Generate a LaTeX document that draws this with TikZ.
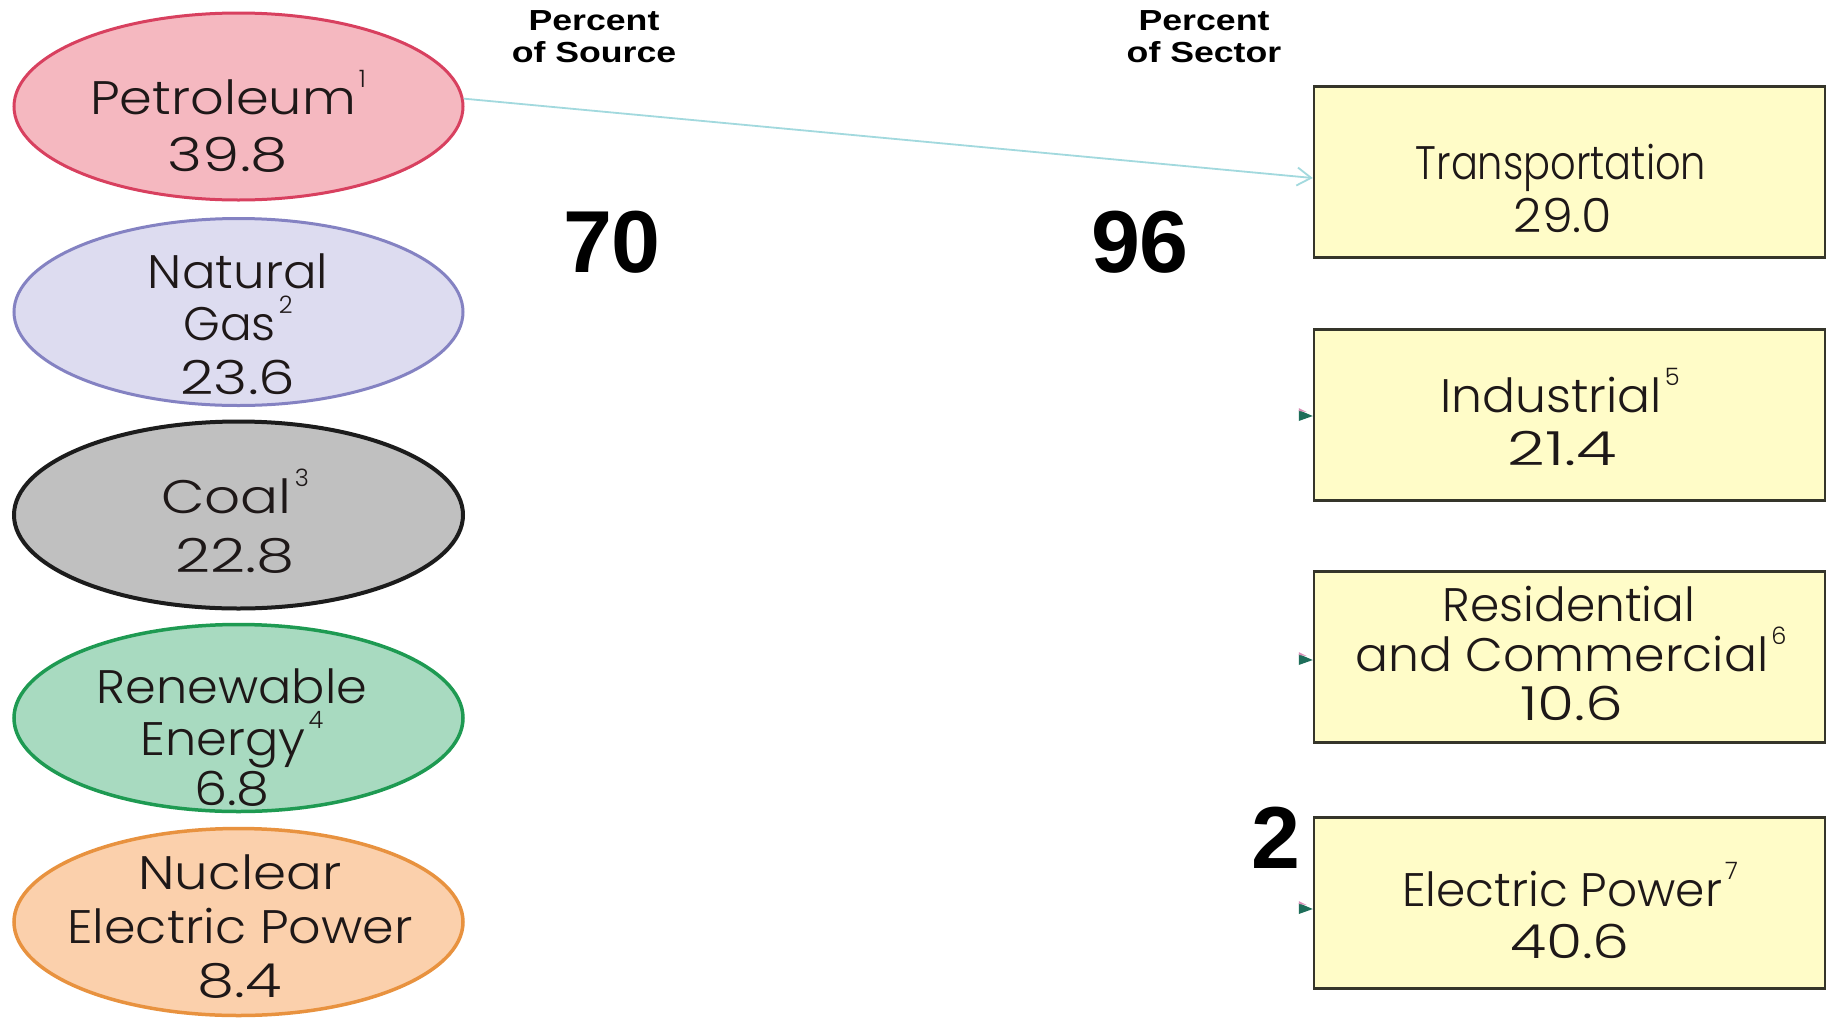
\documentclass[tikz,border=0pt]{standalone}
\usepackage{fontspec}
\setmainfont{Poppins}[UprightFont=* Light]
\newfontfamily\hdrfont{Liberation Sans}
\usetikzlibrary{arrows.meta,shapes.geometric}
\definecolor{pfill}{HTML}{F5B8C0}
\definecolor{pdraw}{HTML}{D8405F}
\definecolor{gfill}{HTML}{DDDCF0}
\definecolor{gdraw}{HTML}{8482C2}
\definecolor{cfill}{HTML}{C0C0C0}
\definecolor{cdraw}{HTML}{1C1C1C}
\definecolor{rfill}{HTML}{A8DAC0}
\definecolor{rdraw}{HTML}{1E9A52}
\definecolor{nfill}{HTML}{FBD0AC}
\definecolor{ndraw}{HTML}{E8923F}
\definecolor{boxfill}{HTML}{FFFCC8}
\definecolor{boxdraw}{HTML}{35352A}
\definecolor{txt}{HTML}{1E1818}
\definecolor{arrowc}{HTML}{A2D9DE}
\definecolor{tipc}{HTML}{1E6E5A}
\definecolor{tipp}{HTML}{D890B8}
\newcommand\sps[1]{\kern3pt\raisebox{0.56em}{\fontsize{24}{24}\selectfont #1}}
\newcommand\hs[2]{\scalebox{#1}[1]{#2}}
\begin{document}
\begin{tikzpicture}[x=1pt,y=-1pt,
  src/.style={ellipse, minimum width=449pt, minimum height=187pt, inner sep=0pt, line width=3pt},
  sect/.style={rectangle, draw=boxdraw, fill=boxfill, line width=2.5pt, minimum width=511pt, minimum height=171pt, inner sep=0pt},
  lbl/.style={anchor=base, font=\fontsize{47}{47}\selectfont, text=txt, inner sep=0pt},
  hdr/.style={anchor=base, font=\hdrfont\bfseries\fontsize{29}{29}\selectfont, inner sep=0pt},
  big/.style={anchor=base, font=\hdrfont\bfseries\fontsize{88}{88}\selectfont, inner sep=0pt},
  flow/.style={draw=arrowc, line width=1.8pt, -{Straight Barb[length=14pt,width=18pt]}}
]
\useasboundingbox[fill=white] (0,0) rectangle (1837,1018);

% sources
\node[src, fill=pfill, draw=pdraw] (pet) at (238.5,106.5) {};
\node[src, fill=gfill, draw=gdraw] (gas) at (238.5,312) {};
\node[src, fill=cfill, draw=cdraw, line width=4pt] (coal) at (238.5,515) {};
\node[src, fill=rfill, draw=rdraw, line width=3.5pt] (ren) at (238.5,718) {};
\node[src, fill=nfill, draw=ndraw, line width=3.5pt] (nuc) at (238.5,922) {};

\node[lbl] (pet1) at (228,114) {\hs{1.12}{Petroleum}\sps{1}};
\node[lbl] (pet2) at (228,171) {\hs{1.27}{39.8}};
\node[lbl] (gas1) at (238,288) {\hs{1.06}{Natural}};
\node[lbl] (gas2) at (238,340) {Gas\sps{2}};
\node[lbl] (gas3) at (238,394) {\hs{1.24}{23.6}};
\node[lbl] (coal1) at (235,513) {\hs{1.2}{Coal}\sps{3}};
\node[lbl] (coal2) at (235,572) {\hs{1.3}{22.8}};
\node[lbl] (ren1) at (232,703) {\hs{1.05}{Renewable}};
\node[lbl] (ren2) at (232,755) {\hs{1.05}{Energy}\sps{4}};
\node[lbl] (ren3) at (232,805) {\hs{1.12}{6.8}};
\node[lbl] (nuc1) at (240,889) {\hs{1.13}{Nuclear}};
\node[lbl] (nuc2) at (240,943) {\hs{1.08}{Electric Power}};
\node[lbl] (nuc3) at (240,997) {\hs{1.26}{8.4}};

% sectors
\node[sect] (tra) at (1569.5,172) {};
\node[sect] (ind) at (1569.5,415) {};
\node[sect] (res) at (1569.5,657) {};
\node[sect] (ele) at (1569.5,903) {};

\node[lbl] (tra1) at (1561,179) {\hs{0.85}{Transportation}};
\node[lbl] (tra2) at (1563,232) {\hs{1.05}{29.0}};
\node[lbl] (ind1) at (1560,412) {\hs{1.04}{Industrial}\sps{5}};
\node[lbl] (ind2) at (1562,465) {\hs{1.4}{21.4}};
\node[lbl] (res1) at (1569,621) {Residential};
\node[lbl] (res2) at (1571,671) {\hs{1.04}{and Commercial}\sps{6}};
\node[lbl] (res3) at (1572,720) {\hs{1.28}{10.6}};
\node[lbl] (ele1) at (1570,906) {Electric Power\sps{7}};
\node[lbl] (ele2) at (1570,958) {\hs{1.25}{40.6}};

% headers
\node[hdr] (h1a) at (594,30) {\hs{1.23}{Percent}};
\node[hdr] (h1b) at (594,62) {\hs{1.23}{of Source}};
\node[hdr] (h2a) at (1204,30) {\hs{1.23}{Percent}};
\node[hdr] (h2b) at (1204,62) {\hs{1.23}{of Sector}};

% big numbers
\node[big] (n70) at (612,272) {70};
\node[big] (n96) at (1140,272) {96};
\node[big] (n2) at (1276,868) {2};

% connector
\draw[flow] (pet.2) -- ([yshift=-6pt]tra.west);

% leftover arrow tips
\foreach \b/\dy in {ind/1, res/3, ele/6} {
  \fill[tipc] ([xshift=-14pt,yshift=-\dy pt+6pt]\b.west) -- ([yshift=-\dy pt]\b.west) -- ([xshift=-14pt,yshift=-\dy pt-5pt]\b.west) -- cycle;
  \fill[tipp] ([xshift=-14pt,yshift=-\dy pt+8pt]\b.west) -- ([xshift=-6pt,yshift=-\dy pt+4pt]\b.west) -- ([xshift=-14pt,yshift=-\dy pt+5pt]\b.west) -- cycle;
}
\end{tikzpicture}
\end{document}
